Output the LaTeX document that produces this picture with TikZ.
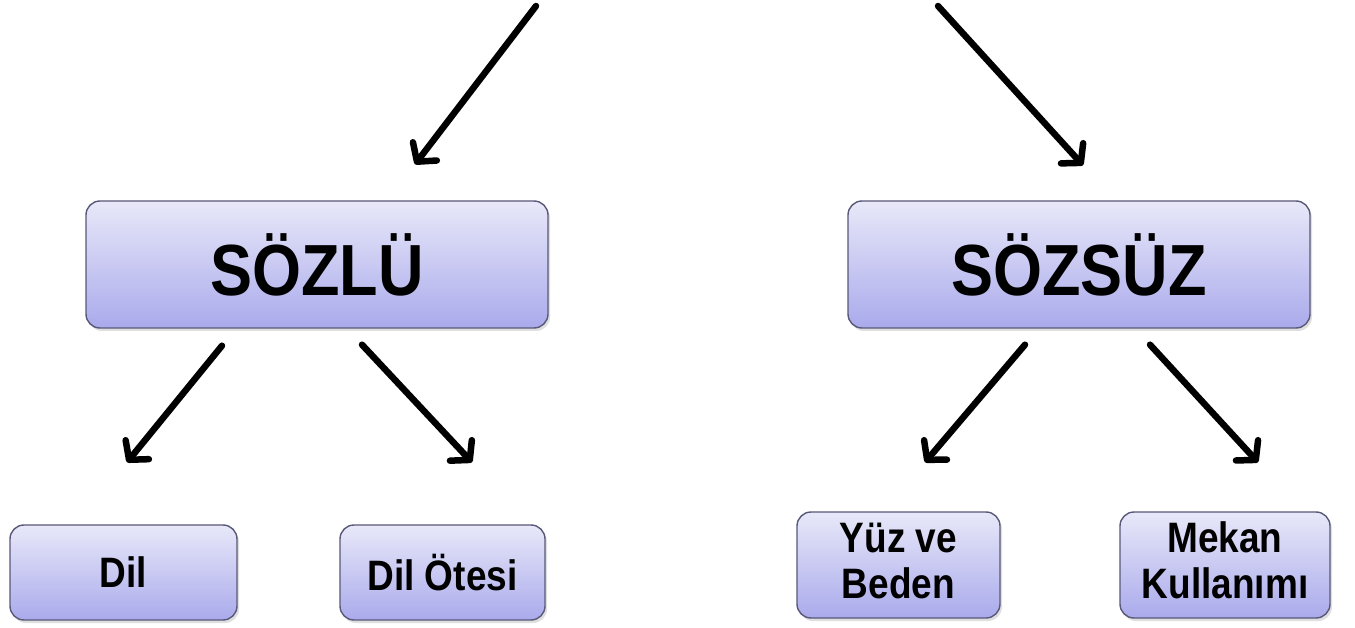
\documentclass[tikz,border=0pt]{standalone}
\usepackage{fontspec}
\setmainfont{Liberation Sans}
\usetikzlibrary{arrows.meta,shadows}
\definecolor{boxtop}{RGB}{232,232,249}
\definecolor{boxbot}{RGB}{170,170,236}
\definecolor{boxline}{RGB}{88,88,120}
\tikzset{
  box/.style={draw=boxline, line width=1.4pt, rounded corners=14pt,
    top color=boxtop, bottom color=boxbot, align=center, inner sep=0pt,
    drop shadow={opacity=0.25, shadow xshift=2pt, shadow yshift=-3pt},
    font=\bfseries},
  bigbox/.style={box, minimum width=462pt, minimum height=127pt},
  arr/.style={line width=6.5pt, line cap=round,
    -{Straight Barb[length=13pt,width=30pt,round]}},
}
\newcommand{\bigtext}[1]{\scalebox{1}[1.15]{\fontsize{63}{70}\selectfont #1}}
\newcommand{\smalltext}[1]{\scalebox{1}[1.15]{\fontsize{37}{40}\selectfont #1}}
\begin{document}
\begin{tikzpicture}[x=1pt,y=-1pt]
  \useasboundingbox[fill=white] (0,0) rectangle (1355,628);
  % main categories
  \node[bigbox] (sozlu) at (317,264.5) {\bigtext{SÖZLÜ}};
  \node[bigbox] (sozsuz) at (1079,264.5) {\bigtext{SÖZSÜZ}};
  % subcategories
  \node[box, minimum width=227pt, minimum height=95pt] (dil) at (123.5,572.5) {\smalltext{Dil}};
  \node[box, minimum width=205pt, minimum height=95pt] (dilotesi) at (442.5,572.5) {\smalltext{Dil Ötesi}};
  \node[box, minimum width=203pt, minimum height=106pt] (yuz) at (898.5,565)
    {\scalebox{1}[1.15]{\fontsize{37}{44}\selectfont\begin{tabular}{@{}c@{}}Yüz ve\\[-4pt] Beden\end{tabular}}};
  \node[box, minimum width=210pt, minimum height=106pt] (mekan) at (1225,565)
    {\scalebox{1}[1.15]{\fontsize{37}{44}\selectfont\begin{tabular}{@{}c@{}}Mekan\\[-4pt] Kullanımı\end{tabular}}};
  % incoming arrows from above
  \coordinate (inleft) at (536,6);
  \coordinate (inright) at (938,6);
  \draw[arr] (inleft) -- ([shift={(98,-36)}]sozlu.north);
  \draw[arr] (inright) -- ([shift={(4,-35)}]sozsuz.north);
  % branches
  \draw[arr] ([shift={(-95,17)}]sozlu.south) -- ([shift={(3.5,-62)}]dil.north);
  \draw[arr] ([shift={(45,16)}]sozlu.south) -- ([shift={(29.5,-62)}]dilotesi.north);
  \draw[arr] ([shift={(-54,16)}]sozsuz.south) -- ([shift={(26.5,-49)}]yuz.north);
  \draw[arr] ([shift={(71,16)}]sozsuz.south) -- ([shift={(33,-49)}]mekan.north);
\end{tikzpicture}
\end{document}
